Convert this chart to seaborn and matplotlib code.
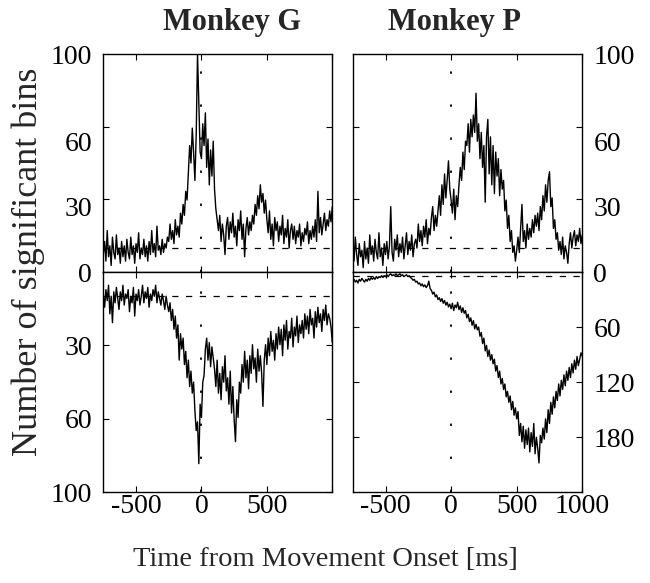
import numpy as np
import matplotlib
matplotlib.use("Agg")
import matplotlib.pyplot as plt
import seaborn as sns

# ---------------- data ----------------
time_ms = np.arange(-750, 1001, 10)

monkeys = ["Monkey G", "Monkey P"]

# Monkey G, bins with increased activity (upper panel, 0-100 axis)
g_increase = [
    8, 14, 5, 19, 7, 12, 3, 16, 9, 6, 17, 8, 11, 4, 14, 7, 12, 5, 15, 9,
    6, 16, 8, 12, 4, 13, 9, 18, 6, 11, 8, 15, 7, 12, 5,
    14, 8, 19, 9, 13, 7, 21, 10, 12, 8, 15, 9, 13, 11, 16,
    14, 22, 15, 19, 13, 24, 17, 21, 16, 27,
    22, 31, 26, 37, 33,
    45, 58, 50, 66, 55,
    42, 63, 100, 78, 55,
    52, 68, 58, 73, 48,
    61, 40, 56, 44, 60,
    38, 29, 24,
    19, 26, 14, 22, 17, 8, 21, 25, 15, 23, 18, 27, 16, 21, 12, 24, 19, 28,
    15, 22, 7, 20, 25, 17, 23, 19, 26,
    22, 31, 26, 35, 29, 40, 32, 36, 27, 33,
    24, 18, 28, 15, 22, 12, 25, 19, 23, 14, 21, 17, 26, 13, 20, 16, 24, 11, 19, 22,
    15, 21, 13, 19, 16, 22, 12, 18, 14, 20, 17, 23, 13, 19, 15, 21, 16, 24, 14, 37,
    18, 25, 17, 22, 27, 19, 24, 21, 28, 23, 30,
]

# Monkey P, bins with increased activity (upper panel, 0-100 axis)
p_increase = [
    12, 5, 16, 8, 3, 13, 7, 10, 2, 14, 6, 11, 4, 17, 8, 12, 5, 15, 9, 6,
    18, 7, 11, 3, 13,
    8, 14, 6, 12, 30, 9, 5, 15, 10, 17, 7, 13, 9, 16, 6, 12, 18, 8, 14, 10,
    17, 7, 13, 15, 11,
    22, 14, 19, 12, 21, 16, 24, 13, 20, 17, 25, 30, 19, 26, 21,
    28, 35, 26, 40, 31, 45, 34, 42, 51, 38,
    33, 27, 38, 24, 35, 30,
    40, 48, 42, 55, 47, 60,
    58, 68, 55, 70, 62, 72, 64, 82,
    60, 68, 52, 64, 48,
    58, 32, 62, 70, 45,
    62, 40, 58, 36, 55, 44, 52, 35, 47, 38,
    42, 28, 33, 20, 26, 14, 19, 9, 12, 5,
    10, 16, 9, 20, 31, 14, 19, 11, 22, 15,
    20, 16, 24, 18, 26, 21, 27, 19, 30, 24,
    35, 28, 40, 32, 42, 46,
    30, 34, 20, 24, 15, 18, 10, 14, 8, 16, 6, 12, 9, 4,
    13, 18, 11, 16, 19, 12, 17, 14, 20, 13, 17,
]

# Monkey G, bins with decreased activity (lower panel, inverted 0-100 axis)
g_decrease = [
    10, 16, 8, 13, 6, 19, 11, 23, 9, 14, 7, 12, 17, 9, 13, 6, 15, 10, 12, 8,
    18, 11, 14, 7, 20, 10, 13, 8, 15, 11, 6, 14, 9, 12, 7, 16, 10, 13, 8, 11,
    6, 14, 9, 12, 15, 10, 13, 17, 11, 15,
    18, 14, 22, 17, 26, 20, 30, 24, 40, 28,
    35, 30, 42, 36, 48, 40, 52, 45, 55, 50,
    63, 72, 68, 87,
    60, 66, 50, 47,
    35, 30, 40, 32, 43, 34, 39,
    44, 52, 40, 55, 46, 58, 43, 50, 38, 54,
    48, 60, 45, 64, 52, 67, 77, 58, 66, 50,
    55, 42, 50, 36, 48, 40, 53, 38, 46, 33, 44, 39, 50, 35, 45,
    38, 46, 61, 40, 33, 42, 30, 38, 27, 36, 31, 40, 28, 35, 25,
    33, 26, 38, 24, 31, 22, 35, 27, 30, 21, 34, 25, 29, 20, 32, 24, 28, 22, 30, 19,
    26, 20, 28, 17, 24, 21, 30, 18, 25, 16, 23, 19, 27, 17, 22, 15, 24, 19, 21, 25, 32,
]

# Monkey P, bins with decreased activity (lower panel, inverted 0-240 axis)
p_decrease = [
    10, 8, 11, 9, 12, 8, 10, 7, 9, 11, 8, 10, 7, 9, 6, 8, 6, 8, 5, 7,
    5, 6, 4, 6, 4, 5, 3, 5, 3, 2, 4, 3, 4, 2, 4, 3, 2, 4, 3, 5,
    4, 3, 5, 4, 6,
    7, 9, 8, 11, 10, 13, 12, 15, 13, 16, 14, 17, 15, 10, 18,
    20, 24, 22, 27, 25, 30, 28, 32, 29, 34, 31, 36, 33, 38, 35,
    40, 34, 42, 36, 39, 33, 41, 37, 44, 39,
    45, 42, 50, 46, 54, 50, 58, 53, 62, 57,
    63, 60, 70, 66, 78, 72, 86, 80, 92, 85,
    96, 90, 100, 95, 108, 102, 115, 108, 122, 116,
    128, 122, 136, 130, 142, 135, 150, 141, 156, 148,
    160, 152, 178, 165, 185, 168, 192, 172, 188, 170,
    196, 175, 190, 165, 198, 180, 192, 208, 178, 186,
    170, 182, 160, 175, 150, 165, 142, 155, 136, 148,
    130, 140, 122, 135, 118, 128, 112, 124, 108, 118,
    104, 115, 100, 110, 96, 106, 92, 102, 95, 88, 92,
]

# significance thresholds (dashed lines)
g_up_threshold = 11
p_up_threshold = 11
g_down_threshold = 11
p_down_threshold = 4.5

x_tick_values = [-500, 0, 500, 1000]
x_tick_labels_left = ["-500", "0", "500", ""]
x_tick_labels_right = ["-500", "0", "500", "1000"]

up_label_ticks = [0, 30, 60, 100]
up_labels = ["0", "30", "60", "100"]
up_mark_ticks = [100 / 3, 200 / 3]
g_down_ticks = [100 / 3, 200 / 3, 100]
g_down_labels = ["30", "60", "100"]
p_down_ticks = [60, 120, 180]
p_down_labels = ["60", "120", "180"]

# ---------------- style ----------------
sns.set_style("white")
plt.rcParams["font.family"] = ["Liberation Serif", "DejaVu Serif"]
plt.rcParams["axes.edgecolor"] = "black"
plt.rcParams["axes.linewidth"] = 1.0

W, H = 650, 583
fig = plt.figure(figsize=(W / 100, H / 100), dpi=100)
fig.patch.set_facecolor("white")


def rect(x0, y0, x1, y1):
    return [x0 / W, 1 - y1 / H, (x1 - x0) / W, (y1 - y0) / H]


XL, XR = 103.3, 332.3
PL, PR = 352.7, 582.3
YT, YM, YB = 54.0, 272.0, 492.3

ax_gu = fig.add_axes(rect(XL, YT, XR, YM))
ax_gd = fig.add_axes(rect(XL, YM, XR, YB))
ax_pu = fig.add_axes(rect(PL, YT, PR, YM))
ax_pd = fig.add_axes(rect(PL, YM, PR, YB))

panels = [
    (ax_gu, g_increase, g_up_threshold, (0, 100)),
    (ax_gd, g_decrease, g_down_threshold, (100, 0)),
    (ax_pu, p_increase, p_up_threshold, (0, 100)),
    (ax_pd, p_decrease, p_down_threshold, (240, 0)),
]

TICK_FS = 20
for ax, vals, thr, ylim in panels:
    ax.axhline(thr, color="black", lw=0.9, ls=(0, (5, 6)), zorder=1)
    ax.axvline(0, color="black", lw=1.3, ls=(0, (1.3, 17)), zorder=1)
    sns.lineplot(x=time_ms, y=vals, ax=ax, color="black", linewidth=1.0,
                 legend=False, zorder=2)
    ax.set_xlim(-750, 1000)
    ax.set_ylim(*ylim)
    ax.set_xlabel("")
    ax.set_ylabel("")
    ax.set_facecolor("white")
    for s in ax.spines.values():
        s.set_visible(True)
        s.set_color("black")
        s.set_linewidth(1.0)
    ax.set_xticks(x_tick_values)
    ax.tick_params(axis="both", which="both", direction="in", top=True,
                   right=True, bottom=True, left=True, width=0.8,
                   labelsize=TICK_FS, colors="black")
    ax.tick_params(axis="x", which="major", length=4, pad=1)
    ax.tick_params(axis="y", which="major", pad=8)
    ax.tick_params(axis="y", which="minor", length=4)

# upper panels: labels at 30 / 60, tick marks at thirds
for ax in (ax_gu, ax_pu):
    ax.set_yticks(up_label_ticks)
    ax.set_yticklabels(up_labels)
    ax.set_yticks(up_mark_ticks, minor=True)
    ax.tick_params(axis="y", which="major", length=0)
    ax.tick_params(axis="x", labelbottom=False)

ax_gd.set_yticks(g_down_ticks)
ax_gd.set_yticklabels(g_down_labels)
ax_gd.tick_params(axis="y", which="major", length=4)
ax_gd.set_xticklabels(x_tick_labels_left)

ax_pd.set_yticks(p_down_ticks)
ax_pd.set_yticklabels(p_down_labels)
ax_pd.tick_params(axis="y", which="major", length=4)
ax_pd.set_xticklabels(x_tick_labels_right)

for ax in (ax_pu, ax_pd):
    ax.tick_params(axis="y", which="both", labelleft=False, labelright=True)

# titles and shared labels
fig.text(232 / W, 1 - 30 / H, monkeys[0], ha="center", va="baseline",
         fontsize=22, fontweight="bold")
fig.text(455 / W, 1 - 30 / H, monkeys[1], ha="center", va="baseline",
         fontsize=22, fontweight="bold")
fig.text(28 / W, 1 - 262 / H, "Number of significant bins", rotation=90,
         ha="center", va="center", fontsize=26)
fig.text(133 / W, 1 - 566 / H, "Time from Movement Onset [ms]", ha="left",
         va="baseline", fontsize=20.5)

fig.savefig("out.png", dpi=100, facecolor="white")
